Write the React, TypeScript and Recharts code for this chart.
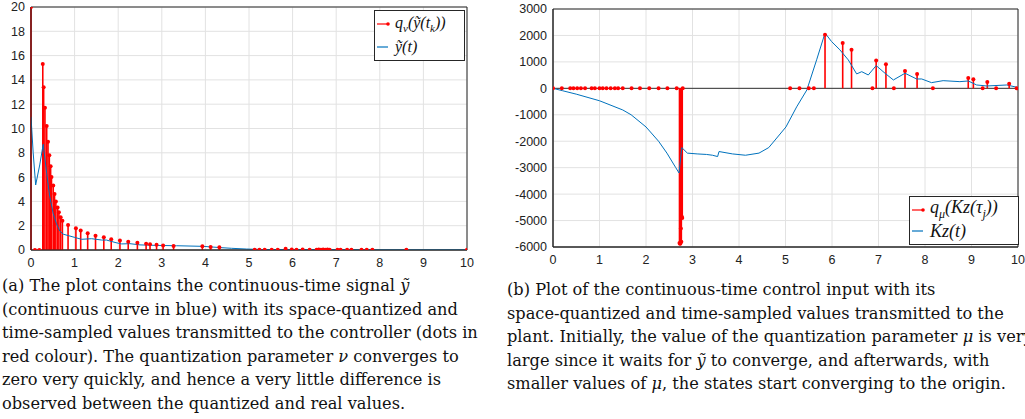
import React from 'react';
import { ComposedChart, Line, Scatter, XAxis, YAxis, CartesianGrid, ReferenceLine, ReferenceArea } from 'recharts';

// (a) quantized / sampled values of y~ : [t, value]
const sampledY: [number, number][] = [
  [0, 20], [0.09, 0], [0.19, 0], [0.27, 15.3], [0.29, 13.4], [0.32, 11.7], [0.36, 10.2],
  [0.39, 8.9], [0.42, 7.8], [0.45, 6.9], [0.47, 6.0], [0.51, 5.3], [0.54, 4.6], [0.57, 4.0],
  [0.61, 3.5], [0.64, 3.1], [0.68, 2.7], [0.72, 2.4], [0.85, 2.05], [1.03, 1.8], [1.14, 1.6],
  [1.3, 1.37], [1.48, 1.18], [1.67, 1.04], [1.84, 0.88], [2.04, 0.79], [2.23, 0.68], [2.44, 0.6],
  [2.64, 0.52], [2.73, 0.47], [2.88, 0.44], [3.03, 0.38], [3.27, 0.33], [3.93, 0.3], [4.12, 0.25],
  [4.32, 0.22], [5.13, 0.03], [5.24, 0.02], [5.36, 0.03], [5.52, 0.02], [5.66, 0.03], [5.84, 0.1],
  [5.98, 0.04], [6.09, 0.03], [6.23, 0.04], [6.39, 0.02], [6.55, 0.03], [6.6, 0.04], [6.65, 0.03],
  [6.7, 0.04], [6.75, 0.03], [6.8, 0.04], [6.85, 0.03], [7.03, 0.03], [7.1, 0.02], [7.25, 0.03],
  [7.35, 0.02], [7.58, 0.02], [7.7, 0.02], [7.83, 0.03], [8.61, 0.02], [10, 0.02],
];

// (a) continuous y~(t)
const curveY: [number, number][] = [
  [0, 10.95], [0.05, 8.0], [0.107, 5.35], [0.2, 7.0], [0.28, 8.7], [0.32, 7.5], [0.36, 6.3],
  [0.43, 4.4], [0.51, 3.0], [0.58, 2.2], [0.66, 1.56], [0.74, 1.3], [0.86, 1.18], [0.99, 1.05],
  [1.16, 0.88], [1.39, 0.93], [1.62, 0.82], [1.73, 0.82], [1.95, 0.6], [2.08, 0.5], [2.27, 0.52],
  [2.5, 0.42], [2.86, 0.38], [3.34, 0.35], [3.95, 0.3], [4.33, 0.2], [4.6, 0.14], [4.94, 0.08],
  [5.3, 0.04], [6, 0.03], [7, 0.02], [8, 0.01], [9, 0.01], [10, 0.01],
];

// (b) quantized / sampled control values
const sampledU: [number, number][] = [
  [0, 0], [0.19, 0], [0.37, 0], [0.44, 0], [0.52, 0], [0.6, 0], [0.69, 0], [0.83, 0], [0.9, 0],
  [1.0, 0], [1.07, 0], [1.15, 0], [1.24, 0], [1.33, 0], [1.4, 0], [1.5, 0], [1.69, 0], [1.87, 0],
  [2.07, 0], [2.27, 0], [2.46, 0], [2.66, 0], [2.72, -5850], [2.73, -5880], [2.74, -5870],
  [2.75, -5300], [2.76, -5800], [2.77, -4860], [2.78, -4900], [2.79, 0],
  [5.1, 0], [5.3, 0], [5.5, 0], [5.61, 0], [5.85, 2025], [6.23, 1710], [6.42, 1455], [6.87, 0],
  [6.95, 1050], [7.16, 910], [7.33, 0], [7.57, 660], [7.83, 545], [8.17, 0], [8.93, 392],
  [9.04, 342], [9.24, 0], [9.34, 240], [9.53, 0], [9.81, 177], [9.97, 0],
];

// (b) continuous Kz(t)
const curveU: [number, number][] = [
  [0, 0], [0.2, -88], [0.5, -220], [1.0, -470], [1.5, -818], [1.68, -1000], [2.0, -1460],
  [2.27, -2000], [2.45, -2450], [2.64, -3000], [2.71, -3200], [2.77, -2240], [2.89, -2450],
  [3.1, -2480], [3.3, -2500], [3.43, -2530], [3.54, -2580], [3.57, -2390], [3.86, -2480],
  [4.14, -2530], [4.43, -2450], [4.64, -2240], [4.74, -2030], [5.01, -1460], [5.24, -700],
  [5.46, -60], [5.67, 1080], [5.85, 2090], [5.99, 1770], [6.17, 1455], [6.35, 1075], [6.53, 545],
  [6.64, 630], [6.78, 505], [6.95, 860], [7.14, 570], [7.32, 316], [7.57, 570], [7.82, 354],
  [7.93, 354], [8.14, 215], [8.39, 290], [8.75, 253], [8.93, 278], [9.11, 127], [9.33, 89],
  [9.76, 127], [9.98, 38],
];

const xTicks = [0, 1, 2, 3, 4, 5, 6, 7, 8, 9, 10];
const yTicksA = [0, 2, 4, 6, 8, 10, 12, 14, 16, 18, 20];
const yTicksB = [-6000, -5000, -4000, -3000, -2000, -1000, 0, 1000, 2000, 3000];

const captionA = [
  ['(a) The plot contains the continuous-time signal ', 'ỹ', ''],
  ['(continuous curve in blue) with its space-quantized and', '', ''],
  ['time-sampled values transmitted to the controller (dots in', '', ''],
  ['red colour). The quantization parameter ', 'ν', ' converges to'],
  ['zero very quickly, and hence a very little difference is', '', ''],
  ['observed between the quantized and real values.', '', ''],
];
const captionB = [
  ['(b) Plot of the continuous-time control input with its', '', ''],
  ['space-quantized and time-sampled values transmitted to the', '', ''],
  ['plant. Initially, the value of the quantization parameter ', 'μ', ' is very'],
  ['large since it waits for ', 'ỹ', ' to converge, and afterwards, with'],
  ['smaller values of ', 'μ', ', the states start converging to the origin.'],
];

const toRows = (arr: [number, number][]) => arr.map(([t, v]) => ({ t, v }));

const RED = '#ff0000';
const BLUE = '#0072BD';
const TICK = { fontSize: 12.5, fill: '#222', fontFamily: 'Liberation Sans, Arial, sans-serif' };
const math: React.CSSProperties = { fontFamily: 'Liberation Serif, serif', fontStyle: 'italic' };

const dot = (p: any) => <circle cx={p.cx} cy={p.cy} r={2} fill={RED} />;

const Caption = ({ lines, left, top }: { lines: string[][]; left: number; top: number }) => (
  <div style={{ position: 'absolute', left, top, fontFamily: 'DejaVu Serif, serif', fontSize: 16.2, lineHeight: '23.5px', color: '#111', whiteSpace: 'nowrap' }}>
    {lines.map((l, i) => (
      <div key={i}>
        {l[0]}
        {l[1] && <span style={{ fontStyle: 'italic' }}>{l[1]}</span>}
        {l[2]}
      </div>
    ))}
  </div>
);

const LegendBox = ({ left, top, width, height, fontSize, items }: any) => (
  <div style={{ position: 'absolute', left, top, width, height, border: '1px solid #262626', background: '#fff', boxSizing: 'border-box', padding: '2px 0 0 2px' }}>
    {items.map((it: any, i: number) => (
      <div key={i} style={{ display: 'flex', alignItems: 'center', height: (height - 6) / 2 }}>
        <svg width={14} height={10} style={{ marginRight: 4 }}>
          <line x1={0} y1={5} x2={11} y2={5} stroke={it.color} strokeWidth={1.2} />
          {it.marker && <circle cx={11} cy={5} r={1.8} fill={it.color} />}
        </svg>
        <span style={{ ...math, fontSize, color: '#111' }}>{it.label}</span>
      </div>
    ))}
  </div>
);

const StemChart = ({ left, width, margin, yAxisWidth, yDomain, yTicks, samples, curve, zeroLine }: any) => {
  const rows = toRows(samples);
  return (
    <div style={{ position: 'absolute', left, top: 0 }}>
      <ComposedChart width={width} height={272} margin={margin}>
        <CartesianGrid stroke="#e2e2e2" strokeWidth={1} />
        <XAxis type="number" dataKey="t" domain={[0, 10]} ticks={xTicks} allowDataOverflow
          tick={TICK} tickSize={0} tickMargin={8} height={20} axisLine={{ stroke: '#262626' }} interval={0} />
        <YAxis type="number" domain={yDomain} ticks={yTicks} allowDataOverflow width={yAxisWidth}
          tick={TICK} tickSize={0} tickMargin={6} axisLine={{ stroke: '#262626' }} interval={0} />
        <ReferenceArea x1={0} x2={10} y1={yDomain[0]} y2={yDomain[1]} fill="none" stroke="#262626" strokeWidth={1} />
        {zeroLine && <ReferenceLine y={0} stroke="#333" strokeWidth={1} />}
        {rows.map((r: any, i: number) => (
          <ReferenceLine key={i} segment={[{ x: r.t, y: 0 }, { x: r.t, y: r.v }]} stroke={RED} strokeWidth={1.6} />
        ))}
        <Scatter data={rows} dataKey="v" shape={dot} isAnimationActive={false} />
        <Line data={toRows(curve)} dataKey="v" type="linear" stroke={BLUE} strokeWidth={1} dot={false} isAnimationActive={false} />
      </ComposedChart>
    </div>
  );
};

export default function App() {
  return (
    <div style={{ position: 'absolute', left: 0, top: 0, width: 1025, height: 419, background: '#fff', overflow: 'hidden' }}>
      <StemChart left={0} width={475} margin={{ top: 7, right: 8, bottom: 2, left: 0 }} yAxisWidth={31}
        yDomain={[0, 20]} yTicks={yTicksA} samples={sampledY} curve={curveY} zeroLine={false} />
      <StemChart left={505} width={520} margin={{ top: 9, right: 7, bottom: 5, left: 0 }} yAxisWidth={48}
        yDomain={[-6000, 3000]} yTicks={yTicksB} samples={sampledU} curve={curveU} zeroLine />
      <LegendBox left={374} top={10} width={91} height={51} fontSize={16}
        items={[
          { color: RED, marker: true, label: <>q<sub style={{ fontSize: 11 }}>ν</sub>(ỹ(t<sub style={{ fontSize: 11 }}>k</sub>))</> },
          { color: BLUE, marker: false, label: <>ỹ(t)</> },
        ]} />
      <LegendBox left={909} top={196} width={110} height={49} fontSize={18}
        items={[
          { color: RED, marker: true, label: <>q<sub style={{ fontSize: 12 }}>μ</sub>(Kz(τ<sub style={{ fontSize: 12 }}>j</sub>))</> },
          { color: BLUE, marker: false, label: <>Kz(t)</> },
        ]} />
      <Caption lines={captionA} left={2} top={274} />
      <Caption lines={captionB} left={507} top={278} />
    </div>
  );
}
